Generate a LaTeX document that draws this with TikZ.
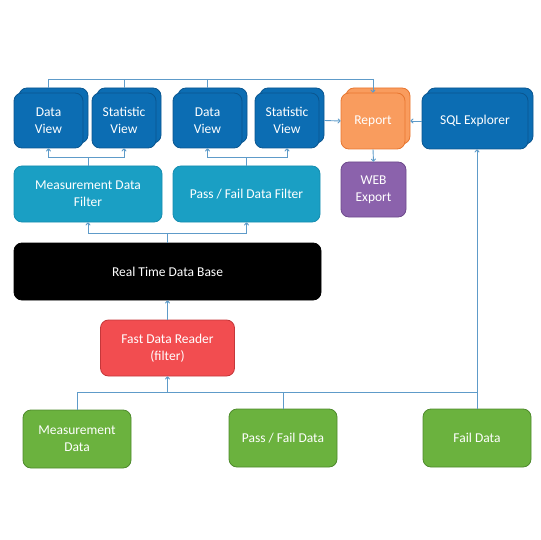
\documentclass[tikz,border=0pt]{standalone}
\usepackage{fontspec}
\setmainfont{Carlito}
\usetikzlibrary{arrows.meta,calc}
\definecolor{vb}{HTML}{0C6DB3}
\definecolor{vbd}{HTML}{0A5690}
\definecolor{tl}{HTML}{1A9FC4}
\definecolor{tld}{HTML}{158DB0}
\definecolor{orf}{HTML}{F99C5E}
\definecolor{ord}{HTML}{E8762F}
\definecolor{pu}{HTML}{8B62AC}
\definecolor{pud}{HTML}{6D4A8C}
\definecolor{rd}{HTML}{F24D50}
\definecolor{rdd}{HTML}{C5373A}
\definecolor{gr}{HTML}{6BB23E}
\definecolor{grd}{HTML}{4E8A2C}
\definecolor{ln}{HTML}{5E9BC9}
\tikzset{
  x=1pt,y=-1pt,
  box/.style={rounded corners=8pt,line width=0.8pt,text=white,align=center,
    font=\fontsize{13.5}{17}\selectfont,inner sep=0pt,minimum height=55pt},
  viewbox/.style={box,fill=vb,draw=vbd},
  filterbox/.style={box,fill=tl,draw=tld},
  conn/.style={draw=ln,line width=0.9pt},
  arr/.style={conn,-{To[length=3pt,width=5pt]}},
}
\begin{document}
\begin{tikzpicture}
\useasboundingbox (0,0) rectangle (540,540);
% back boxes of stacks
\node[viewbox,minimum width=69pt] (dv1b) at (53.5,115.5) {};
\node[viewbox,minimum width=64pt] (sv1b) at (129,115.5) {};
\node[viewbox,minimum width=69pt] (dv2b) at (212.5,115.5) {};
\node[viewbox,minimum width=64pt] (sv2b) at (292,115.5) {};
\node[box,fill=orf,draw=ord,minimum width=64pt,minimum height=56pt] (repb) at (378,116) {};
\node[viewbox,minimum width=106pt,minimum height=56pt] (sqlb) at (480,116) {};
% front boxes
\node[viewbox,minimum width=69pt] (dv1) at (48.5,120.5) {Data\\View};
\node[viewbox,minimum width=64pt] (sv1) at (124,120.5) {Statistic\\View};
\node[viewbox,minimum width=69pt] (dv2) at (207.5,120.5) {Data\\View};
\node[viewbox,minimum width=64pt] (sv2) at (287,120.5) {Statistic\\View};
\node[box,fill=orf,draw=ord,minimum width=64pt,minimum height=56pt] (rep) at (373,121) {Report};
\node[viewbox,minimum width=106pt,minimum height=56pt] (sql) at (475,121) {SQL Explorer};
\node[box,fill=pu,draw=pud,minimum width=65pt] (web) at (373.5,189.5) {WEB\\Export};
\node[filterbox,minimum width=148pt,minimum height=56pt] (mdf) at (88,194) {Measurement Data\\Filter};
\node[filterbox,minimum width=147pt,minimum height=56pt] (pfdf) at (246.5,194) {Pass / Fail Data Filter};
\node[box,fill=black,draw=black,minimum width=307pt,minimum height=57pt] (db) at (167.5,271.5) {Real Time Data Base};
\node[box,fill=rd,draw=rdd,minimum width=134pt,minimum height=56pt] (fdr) at (167.5,348) {Fast Data Reader\\(filter)};
\node[box,fill=gr,draw=grd,minimum width=108pt,minimum height=58pt] (md) at (77,439) {Measurement\\Data};
\node[box,fill=gr,draw=grd,minimum width=108pt,minimum height=58pt] (pfd) at (283,438) {Pass / Fail Data};
\node[box,fill=gr,draw=grd,minimum width=108pt,minimum height=58pt] (fd) at (477,438) {Fail Data};
% helper coordinates
\coordinate (top) at (0,79);
\coordinate (vb1) at (0,157);
\coordinate (fb) at (0,233);
\coordinate (bot) at (0,392);
% views to report
\draw[conn] (dv1b.north -| dv1.north) |- (top -| rep.north);
\draw[conn] (sv1b.north -| sv1.north) -- (top -| sv1.north);
\draw[conn] (dv2b.north -| dv2.north) -- (top -| dv2.north);
\draw[arr] (top -| rep.north) -- (rep.north);
\draw[arr] (sv2b.east |- sv2.east) -- (rep.west);
\draw[arr] (sql.west) -- (repb.east |- sql.west);
\draw[arr] (rep.south) -- (web.north);
% filters to views
\draw[conn] (mdf.north) -- (vb1 -| mdf.north);
\draw[arr] (vb1 -| mdf.north) -| (dv1.south);
\draw[arr] (vb1 -| mdf.north) -| (sv1.south);
\draw[conn] (pfdf.north) -- (vb1 -| pfdf.north);
\draw[arr] (vb1 -| pfdf.north) -| (dv2.south);
\draw[arr] (vb1 -| pfdf.north) -| (sv2.south);
% database to filters
\draw[conn] (db.north) -- (fb -| db.north);
\draw[arr] (fb -| db.north) -| (mdf.south);
\draw[arr] (fb -| db.north) -| (pfdf.south);
% reader to database
\draw[arr] (fdr.north) -- (db.south -| fdr.north);
% sources
\draw[conn] (md.north) |- (bot -| fd.north);
\draw[conn] (pfd.north) -- (bot -| pfd.north);
\draw[arr] (bot -| fdr.south) -- (fdr.south);
\draw[arr] (fd.north) -- (sql.south -| fd.north);
\end{tikzpicture}
\end{document}
